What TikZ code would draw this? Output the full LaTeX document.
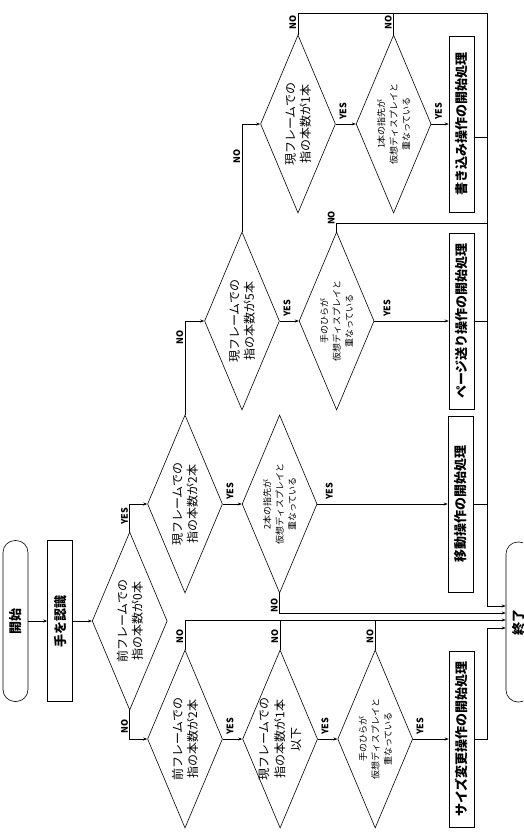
\documentclass[tikz,border=0pt]{standalone}
\usepackage{fontspec}
\setmainfont{Noto Sans CJK JP}
\usetikzlibrary{arrows.meta,positioning,shapes.geometric}

\begin{document}
\begin{tikzpicture}[rotate=90, transform shape, x=1pt, y=1pt, line width=0.6pt,
  term/.style={rectangle, draw, rounded corners=12pt, minimum width=161pt,
    minimum height=25pt, font=\bfseries\fontsize{13}{15}\selectfont},
  proc/.style={rectangle, draw, minimum width=176pt, minimum height=25pt,
    inner sep=2pt, font=\bfseries\fontsize{13}{15}\selectfont},
  cond/.style={diamond, draw, aspect=2.37, minimum width=178pt, minimum height=75pt,
    inner sep=-2pt, align=center, font=\fontsize{12}{15}\selectfont},
  condsmall/.style={cond, font=\fontsize{9}{12.5}\selectfont},
  lbl/.style={font=\bfseries\fontsize{9}{9}\selectfont, inner xsep=4pt, inner ysep=1.5pt},
  arr/.style={-{Stealth[length=4pt,width=3pt]}},
]
  \useasboundingbox (-834,-523) rectangle (0,0);
  \clip (-834,-523) rectangle (0,0);

  \node[term] (start) at (-621,-15.5) {開始};
  \node[proc, minimum width=161pt, below=19pt of start] (recog) {手を認識};
  \node[cond, below=19pt of recog] (prevzero) {前フレームでの\\指の本数が0本};
  \node[cond] (curtwo) at (-504,-185) {現フレームでの\\指の本数が2本};
  \node[cond] (prevtwo) at (-739,-185) {前フレームでの\\指の本数が2本};
  \node[cond] (curfive) at (-321,-242) {現フレームでの\\指の本数が5本};
  \node[cond] (curone) at (-124,-298) {現フレームでの\\指の本数が1本};
  \node[condsmall, below=19pt of curtwo] (twotip) {2本の指先が\\仮想ディスプレイと\\重なっている};
  \node[cond, font=\fontsize{12}{16}\selectfont, below=19.5pt of prevtwo] (curlow) {現フレームでの\\指の本数が1本\\以下};
  \node[condsmall, below=19.5pt of curlow] (palmsize) {手のひらが\\仮想ディスプレイと\\重なっている};
  \node[condsmall, below=19pt of curfive] (palmpage) {手のひらが\\仮想ディスプレイと\\重なっている};
  \node[condsmall, below=20pt of curone] (onetip) {1本の指先が\\仮想ディスプレイと\\重なっている};
  \node[proc] (sizeop) at (-739,-461.5) {サイズ変更操作の開始処理};
  \node[proc] (moveop) at (-504,-460.5) {移動操作の開始処理};
  \node[proc] (pageop) at (-321,-461.5) {ページ送り操作の開始処理};
  \node[proc] (writeop) at (-124,-461.5) {書き込み操作の開始処理};
  \node[term, minimum width=160pt] (finish) at (-622,-518.5) {終了};

  \coordinate (bustop) at (-13,-487);
  \coordinate (writeout) at ([xshift=-13pt]writeop.south);
  \coordinate (palmno) at ([xshift=8pt]palmpage.east);
  \coordinate (endA) at ([xshift=16pt]finish.north);
  \coordinate (endB) at ([xshift=9pt]finish.north);
  \coordinate (endC) at ([xshift=2pt]finish.north);
  \coordinate (endD) at ([xshift=-6pt]finish.north);

  \draw[arr] (start) -- (recog);
  \draw[arr] (recog) -- (prevzero);
  \draw[arr] (prevzero.east) -| node[lbl, pos=0.05, anchor=south west] {YES} (curtwo.north);
  \draw[arr] (prevzero.west) -| node[lbl, pos=0.08, anchor=south east] {NO} (prevtwo.north);
  \draw[arr] (curtwo.south) -- node[lbl, pos=0.1, anchor=north west] {YES} (twotip.north);
  \draw[arr] (curtwo.east) -| node[lbl, pos=0.47, anchor=south east] {NO} (curfive.north);
  \draw[arr] (curfive.south) -- node[lbl, pos=0.1, anchor=north west] {YES} (palmpage.north);
  \draw[arr] (curfive.east) -| node[lbl, pos=0.4, anchor=south east] {NO} (curone.north);
  \draw[arr] (curone.south) -- node[lbl, pos=0.1, anchor=north west] {YES} (onetip.north);
  \draw (curone.east) -| node[lbl, pos=0.02, anchor=south west] {NO} (bustop);
  \draw[arr] (onetip.south) -- node[lbl, pos=0.1, anchor=north west] {YES} (writeop.north);
  \draw (onetip.east) -- node[lbl, pos=0.05, anchor=south west] {NO} (bustop |- onetip.east);
  \draw[arr] (palmpage.south) -- node[lbl, pos=0.1, anchor=north west] {YES} (pageop.north);
  \draw (palmpage.east) -- node[lbl, pos=0.3, anchor=south west] {NO} (palmno) -- (palmno |- bustop);
  \draw[arr] (twotip.south) -- node[lbl, pos=0.05, anchor=north west] {YES} (moveop.north);
  \draw[arr] (twotip.west) -| node[lbl, pos=0.03, anchor=south east] {NO} (endB);
  \draw[arr] (prevtwo.south) -- node[lbl, pos=0.1, anchor=north west] {YES} (curlow.north);
  \draw[arr] (prevtwo.east) -| node[lbl, pos=0.04, anchor=south west] {NO} (endC);
  \draw (curlow.east) -- node[lbl, pos=0.07, anchor=south west] {NO} (endC |- curlow.east);
  \draw[arr] (curlow.south) -- node[lbl, pos=0.1, anchor=north west] {YES} (palmsize.north);
  \draw (palmsize.east) -- node[lbl, pos=0.07, anchor=south west] {NO} (endC |- palmsize.east);
  \draw[arr] (palmsize.south) -- node[lbl, pos=0.05, anchor=north west] {YES} (sizeop.north);
  \draw (writeout) -- (writeout |- bustop);
  \draw (pageop.south) -- (pageop.south |- bustop);
  \draw (moveop.south) -- (moveop.south |- bustop);
  \draw[arr] (sizeop.south) -- (sizeop.south |- bustop) -| (endD);
  \draw[arr] (bustop) -| (endA);
\end{tikzpicture}
\end{document}
